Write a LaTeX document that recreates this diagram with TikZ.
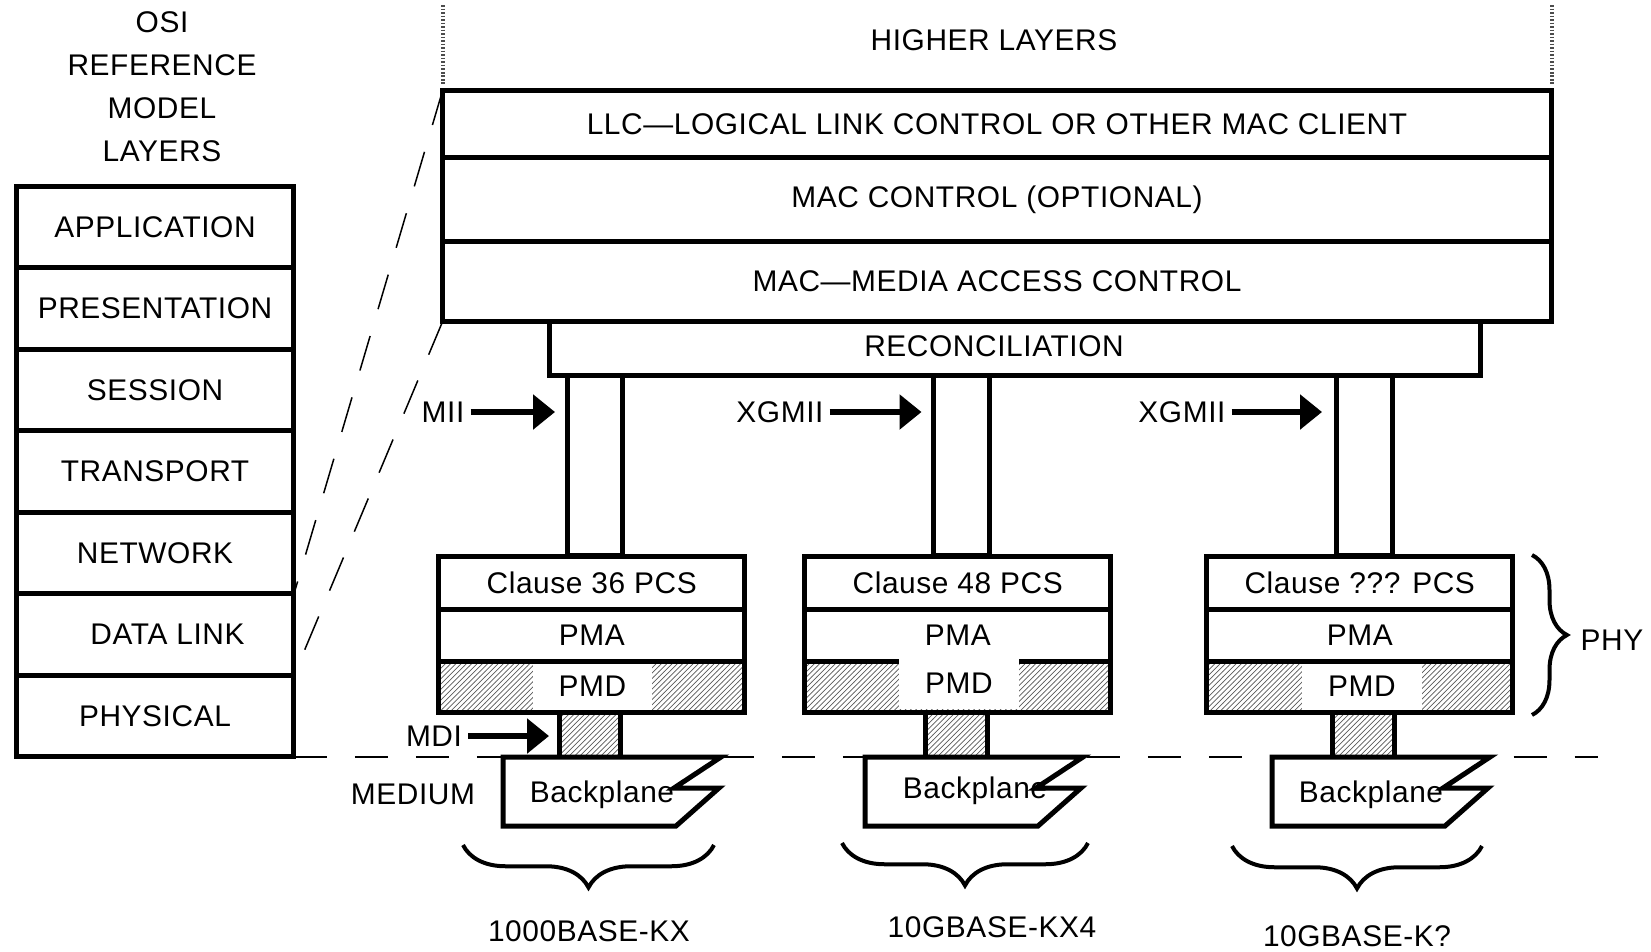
\documentclass[tikz,border=0pt]{standalone}
\usepackage{fontspec}
\setmainfont[LetterSpace=2]{Liberation Sans}
\usetikzlibrary{arrows.meta,patterns,decorations.pathreplacing}
\def\LayerFont{\fontsize{17}{20}\selectfont}
\def\HatchGray{black!65}

\begin{document}
\begin{tikzpicture}
    [x=0.02cm, y=-0.02cm, font=\LayerFont,
    osi/.style={draw, line width=0.1cm, minimum width=5.56cm, minimum height=1.63cm, inner sep=0, outer sep=0},
    upper/.style={draw, line width=0.1cm, minimum width=22.18cm, inner sep=0, outer sep=0},
    sub/.style={draw, line width=0.1cm, fill=white, minimum width=6.13cm, minimum height=1.04cm, inner sep=0, outer sep=0},
    hatch/.style={pattern=north east lines, pattern color=\HatchGray},
    pmdrow/.style={draw, line width=0.1cm, hatch, minimum width=6.13cm, minimum height=1.02cm, inner sep=0, outer sep=0},
    window/.style={fill=white, minimum width=2.4cm, minimum height=0.92cm, inner sep=0},
    iface/.style={draw, line width=0.1cm, minimum width=1.12cm, minimum height=3.62cm, inner sep=0, outer sep=0},
    cable/.style={draw, line width=0.1cm, hatch, minimum width=1.24cm, minimum height=0.9cm, inner sep=0, outer sep=0},
    plane/.style={draw, line width=0.1cm, fill=white},
    sig/.style={-{Triangle[length=0.44cm, width=0.68cm]}, line width=0.12cm},
    zoomline/.style={line width=0.03cm, dash pattern=on 0.72cm off 0.56cm},
    medline/.style={line width=0.04cm, dash pattern=on 0.66cm off 0.56cm},
    strip/.style={line width=0.08cm, black!70, dash pattern=on 1pt off 1pt},
    grp/.style={line width=0.08cm, decorate, decoration={brace, mirror, amplitude=#1}},
    ]
    \useasboundingbox (0,0) rectangle (1651,951);

    % OSI reference model
    \node[align=center, font=\fontsize{17}{24.4}\selectfont] (osititle) at (162,87) {OSI\\REFERENCE\\MODEL\\LAYERS};
    \node[osi] (app) at (155,226.8) {APPLICATION};
    \node[osi] (pres) at (155,308.4) {PRESENTATION};
    \node[osi] (sess) at (155,389.9) {SESSION};
    \node[osi] (trans) at (155,471.5) {TRANSPORT};
    \node[osi] (net) at (155,553.1) {NETWORK};
    \node[osi] (dl) at (155,634.6) {\hspace*{0.5cm}DATA LINK};
    \node[osi] (phys) at (155,716.2) {PHYSICAL};

    % upper layers
    \node (higher) at (994,40) {HIGHER LAYERS};
    \draw[strip] (442.5,5) -- (442.5,84);
    \draw[strip] (1551.5,5) -- (1551.5,84);
    \node[upper, minimum height=1.34cm] (llc) at (997,124) {LLC—LOGICAL LINK CONTROL OR OTHER MAC CLIENT};
    \node[upper, minimum height=1.68cm] (macctl) at (997,199.5) {MAC CONTROL (OPTIONAL)};
    \node[upper, minimum height=1.6cm] (mac) at (997,281.5) {MAC—MEDIA ACCESS CONTROL};
    \node[draw, line width=0.1cm, minimum width=18.62cm, minimum height=1.07cm, inner sep=0, outer sep=0] (recon) at (1015,348.25) {};
    \node (recontxt) at (994,346) {RECONCILIATION};
    \draw[zoomline] (llc.north west) -- (dl.north east);
    \draw[zoomline] (mac.south west) -- (dl.south east);

    % interfaces
    \node[iface] (if1) at (595,465.5) {};
    \node[iface] (if2) at (961.5,465.5) {};
    \node[iface] (if3) at (1364,465.5) {};
    \node (mii) at (443,412) {MII};
    \node (xgmii1) at (780,412) {XGMII};
    \node (xgmii2) at (1182,412) {XGMII};
    \draw[sig, shorten >=0.24cm] (mii.east) -- (mii.east -| if1.west);
    \draw[sig, shorten >=0.24cm] (xgmii1.east) -- (xgmii1.east -| if2.west);
    \draw[sig, shorten >=0.28cm] (xgmii2.east) -- (xgmii2.east -| if3.west);

    % PHY stacks
    \node[sub, minimum height=1.06cm] (pcs1) at (591.75,582.5) {Clause 36 PCS};
    \node[pmdrow] (pmd1) at (591.75,686.5) {};
    \node[window] (pmdtxt1) at (592.5,686.5) {PMD};
    \node[sub] (pma1) at (591.75,635) {PMA};

    \node[sub, minimum height=1.06cm] (pcs2) at (957.75,582.5) {Clause 48 PCS};
    \node[sub] (pma2) at (957.75,635) {PMA};
    \node[pmdrow] (pmd2) at (957.75,686.5) {};
    \node[window, minimum height=1.02cm] (pmdtxt2) at (959,683.5) {PMD};

    \node[sub, minimum height=1.06cm] (pcs3) at (1359.75,582.5) {Clause ??? PCS};
    \node[pmdrow] (pmd3) at (1359.75,686.5) {};
    \node[window] (pmdtxt3) at (1362,686.5) {PMD};
    \node[sub] (pma3) at (1359.75,635) {PMA};

    \draw[grp=0.7cm] (1532,715) -- (1532,555);
    \node (phy) at (1612,640) {PHY};

    % medium
    \coordinate (medend) at (1598,757);
    \draw[medline] (phys.south east) -- (phys.south east -| medend);
    \node[cable] (cab1) at (590,734.5) {};
    \node[cable] (cab2) at (956,734.5) {};
    \node[cable] (cab3) at (1363.5,734.5) {};
    \node (mdi) at (434,736) {MDI};
    \draw[sig, shorten >=0.2cm] (mdi.east) -- (mdi.east -| cab1.west);
    \node (medium) at (413,794) {MEDIUM};

    \draw[plane] (503,757) -- ++(218,0) -- ++(-47,31) -- ++(45,0) -- ++(-43,38) -- ++(-173,0) -- cycle;
    \draw[plane] (865,757) -- ++(218,0) -- ++(-47,31) -- ++(45,0) -- ++(-43,38) -- ++(-173,0) -- cycle;
    \draw[plane] (1272,757) -- ++(218,0) -- ++(-47,31) -- ++(45,0) -- ++(-43,38) -- ++(-173,0) -- cycle;
    \node (bp1) at (602,795) {Backplane};
    \node (bp2) at (975,791) {Backplane};
    \node (bp3) at (1371,795) {Backplane};

    \draw[grp=0.85cm] (463,845) -- (714,845);
    \draw[grp=0.85cm] (842,843) -- (1088,843);
    \draw[grp=0.85cm] (1232,846) -- (1482,846);
    \node (kx) at (589,931) {1000BASE-KX};
    \node (kx4) at (992,927) {10GBASE-KX4};
    \node (kq) at (1357,936) {10GBASE-K?};
  \end{tikzpicture}
\end{document}
